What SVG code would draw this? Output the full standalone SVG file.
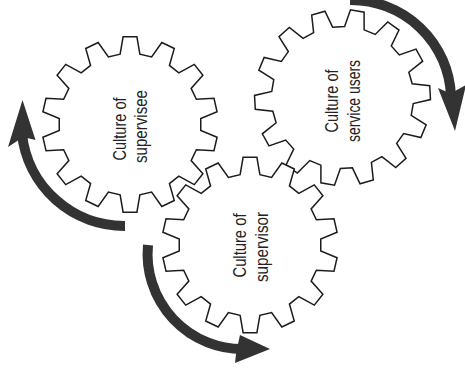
<svg xmlns="http://www.w3.org/2000/svg" xmlns:xlink="http://www.w3.org/1999/xlink" width="465" height="376" viewBox="0 0 465 376">
<style>
.gear{fill:#ffffff;stroke:#1c1c1c;stroke-width:1.5;stroke-linejoin:miter}
.lbl{font-family:"Liberation Sans",Arial,sans-serif;font-size:18px;fill:#222222;text-anchor:middle}
.shaft{fill:none;stroke:#333333;stroke-width:10;stroke-linecap:butt}
.head{fill:#333333;stroke:none}
</style>
<defs>
<polygon id="gearShape" points="-9.88,-70.31 -6.90,-87.73 6.90,-87.73 9.88,-70.31 21.60,-67.63 31.84,-82.04 44.28,-76.05 39.41,-59.06 48.81,-51.56 64.28,-60.10 72.89,-49.30 61.13,-36.11 66.35,-25.28 83.99,-26.25 87.07,-12.79 70.75,-6.01 70.75,6.01 87.07,12.79 83.99,26.25 66.35,25.28 61.13,36.11 72.89,49.30 64.28,60.10 48.81,51.56 39.41,59.06 44.28,76.05 31.84,82.04 21.60,67.63 9.88,70.31 6.90,87.73 -6.90,87.73 -9.88,70.31 -21.60,67.63 -31.84,82.04 -44.28,76.05 -39.41,59.06 -48.81,51.56 -64.28,60.10 -72.89,49.30 -61.13,36.11 -66.35,25.28 -83.99,26.25 -87.07,12.79 -70.75,6.01 -70.75,-6.01 -87.07,-12.79 -83.99,-26.25 -66.35,-25.28 -61.13,-36.11 -72.89,-49.30 -64.28,-60.10 -48.81,-51.56 -39.41,-59.06 -44.28,-76.05 -31.84,-82.04 -21.60,-67.63"/>
</defs>
<g id="gear-supervisee">
<use xlink:href="#gearShape" href="#gearShape" class="gear" transform="translate(130,124.5)"/>
<text class="lbl" transform="translate(126,129) rotate(-90)" textLength="63" lengthAdjust="spacingAndGlyphs">Culture of</text>
<text class="lbl" transform="translate(147,126.5) rotate(-90)" textLength="73" lengthAdjust="spacingAndGlyphs">supervisee</text>
</g>
<g id="gear-service-users">
<use xlink:href="#gearShape" href="#gearShape" class="gear" transform="translate(342.5,97.5) rotate(-16)"/>
<text class="lbl" transform="translate(337.5,101) rotate(-90)" textLength="63" lengthAdjust="spacingAndGlyphs">Culture of</text>
<text class="lbl" transform="translate(360,101) rotate(-90)" textLength="82" lengthAdjust="spacingAndGlyphs">service users</text>
</g>
<g id="gear-supervisor">
<use xlink:href="#gearShape" href="#gearShape" class="gear" transform="translate(250,245)"/>
<text class="lbl" transform="translate(246,245.5) rotate(-90)" textLength="64" lengthAdjust="spacingAndGlyphs">Culture of</text>
<text class="lbl" transform="translate(267.5,247) rotate(-90)" textLength="70" lengthAdjust="spacingAndGlyphs">supervisor</text>
</g>
<g id="connectors">
<path class="shaft" d="M125,226 A103,103 0 0 1 22,134"/>
<polygon class="head" points="22.5,100 35.5,140 27,138 18,140.5 8,147"/>
<path class="shaft" d="M350,0 A100,100 0 0 1 451,96"/>
<polygon class="head" points="455,131 438,88 447,92 455,91 466,85"/>
<path class="shaft" d="M148,245 A95,95 0 0 0 245,349"/>
<polygon class="head" points="270,349 240,335 238,344 236,354 235,363"/>
</g>
</svg>
